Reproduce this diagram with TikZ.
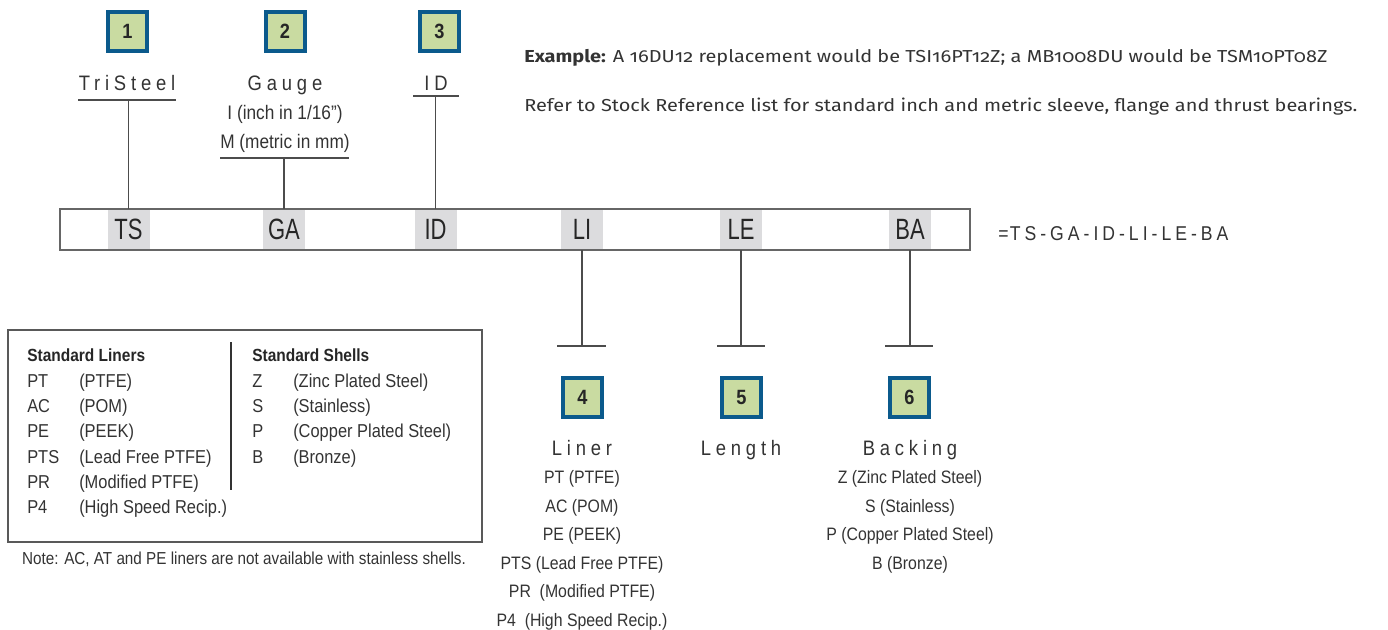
\documentclass[tikz,border=0pt]{standalone}
\usepackage{fontspec}
\setmainfont{Liberation Sans}[FakeStretch=0.88]
\newfontfamily\codefont{Liberation Sans}[FakeStretch=0.75]
\newfontfamily\exfont{Fira Sans}[Numbers=OldStyle,FakeStretch=1.15]
\definecolor{boxblue}{HTML}{0B5A8C}
\definecolor{boxgreen}{HTML}{C9DBA1}
\definecolor{cellgray}{HTML}{DCDCDE}
\definecolor{inkgray}{HTML}{333333}
\newcommand{\labelrule}[5]% cell, anchor, left, right, y
{\coordinate (#1l) at (#3,#5);
 \coordinate (#1r) at (#4,#5);
 \coordinate (#1f) at (#1.#2 |- #1l);
 \draw[rule] (#1l) -- (#1r);
 \draw[rule] (#1.#2) -- (#1f);
}

\begin{document}
\begin{tikzpicture}[x={(0.75pt,0)},y={(0,-0.75pt)},
	numbox/.style={draw=boxblue,line width=3pt,fill=boxgreen,inner sep=0pt,minimum size=29.25pt,font=\bfseries\fontsize{15.5}{18}\selectfont,text=black!85},
	codecell/.style={fill=cellgray,inner sep=0pt,minimum width=31.5pt,minimum height=30.75pt,font=\codefont\fontsize{22}{26}\selectfont,text=black!85},
	rule/.style={draw=black!70,line width=0.9pt},
	barline/.style={draw=black!60,line width=1.5pt},
	spaced/.style={inner sep=0pt,anchor=base,text=inkgray,font=\fontsize{15.7}{18}\selectfont\addfontfeatures{LetterSpace=23}},
	sub/.style={inner sep=0pt,anchor=base,text=inkgray,font=\fontsize{14.7}{17}\selectfont},
	item/.style={inner sep=0pt,anchor=base,text=inkgray,font=\fontsize{13.5}{16}\selectfont},
	boxitem/.style={inner sep=0pt,anchor=base west,text=inkgray,font=\fontsize{14}{16}\selectfont},
	head/.style={inner sep=0pt,anchor=base west,text=black!85,font=\bfseries\fontsize{13.2}{16}\selectfont},
	extext/.style={inner sep=0pt,anchor=base west,text=inkgray,font=\exfont\fontsize{13}{15}\selectfont}]

\useasboundingbox (0,0) rectangle (1388,629);

% code bar
\foreach \c/\x in {TS/128.5,GA/284,ID/435.5,LI/582,LE/741,BA/910}
	\node[codecell] (\c) at (\x,229.5) {\c};
\draw[barline] (60,209) rectangle (970,250);
\node[anchor=base west,inner sep=0pt,text=inkgray,font=\fontsize{15}{17}\selectfont\addfontfeatures{LetterSpace=20}] (code) at (998,240) {=\kern1pt TS-GA-ID-LI-LE-BA};

% number boxes
\foreach \n/\x/\y in {1/127.5/31.5,2/285/31.5,3/439.5/31.5,4/582.5/397.5,5/741.5/397.5,6/909.5/397.5}
	\node[numbox] (n\n) at (\x,\y) {\n};

% upper labels
\labelrule{TS}{north}{78}{176}{100}
\labelrule{GA}{north}{220}{349}{158}
\labelrule{ID}{north}{413}{459}{96}
\node[spaced] (tristeel) at (127,90.5) {TriSteel};
\node[spaced] (gauge) at (285,90.5) {Gauge};
\node[sub] (inch) at (285,119) {I (inch in 1/16”)};
\node[sub] (metric) at (285,148) {M (metric in mm)};
\node[spaced] (idlabel) at (436,90.5) {ID};

% lower labels
\labelrule{LI}{south}{557}{606}{346}
\labelrule{LE}{south}{717}{765}{346}
\labelrule{BA}{south}{885}{933}{346}
\node[spaced] (liner) at (582,455.5) {Liner};
\node[spaced] (length) at (741,455.5) {Length};
\node[spaced] (backing) at (910,455.5) {Backing};
\foreach \t [count=\i] in {PT (PTFE),AC (POM),PE (PEEK),PTS (Lead Free PTFE),PR\ \ (Modified PTFE),P4\ \ (High Speed Recip.)}
	\node[item] (liner\i) at (582,{483.5+28.6*(\i-1)}) {\t};
\foreach \t [count=\i] in {Z (Zinc Plated Steel),S (Stainless),P (Copper Plated Steel),B (Bronze)}
	\node[item] (backing\i) at (910,{483.5+28.6*(\i-1)}) {\t};

% standard liners and shells
\draw[rule,draw=black!65] (8,330) rectangle (482,542);
\draw[rule,draw=black!80] (231,342) -- (231,490);
\node[head] (liners) at (27,361) {Standard Liners};
\foreach \c/\t [count=\i] in {PT/PTFE,AC/POM,PE/PEEK,PTS/Lead Free PTFE,PR/Modified PTFE,P4/High Speed Recip.}
	{\node[boxitem] (lc\i) at (27,{387.5+25.2*(\i-1)}) {\c};
	\node[boxitem] (ln\i) at (79,{387.5+25.2*(\i-1)}) {(\t)};
	}
\node[head] (shells) at (252,361) {Standard Shells};
\foreach \c/\t [count=\i] in {Z/Zinc Plated Steel,S/Stainless,P/Copper Plated Steel,B/Bronze}
	{\node[boxitem] (sc\i) at (252,{387.5+25.2*(\i-1)}) {\c};
	\node[boxitem] (sn\i) at (293,{387.5+25.2*(\i-1)}) {(\t)};
	}
\node[item,font=\fontsize{13}{15}\selectfont] (note) at (244,564) {Note: AC, AT and PE liners are not available with stainless shells.};

% example text
\node[extext] (example) at (524,62) {\textbf{Example:} A 16DU12 replacement would be TSI16PT12Z; a MB1008DU would be TSM10PT08Z};
\node[extext] (refer) at (524,111) {Refer to Stock Reference list for standard inch and metric sleeve, flange and thrust bearings.};

\end{tikzpicture}
\end{document}
